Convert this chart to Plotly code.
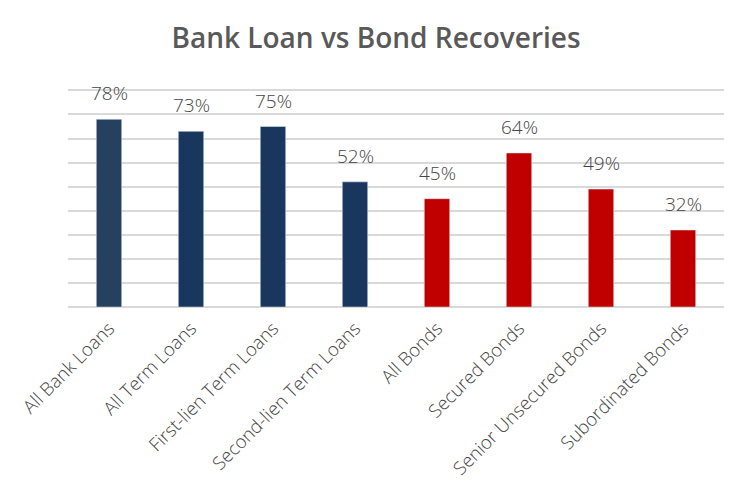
import plotly.graph_objects as go

categories = ["All Bank Loans", "All Term Loans", "First-lien Term Loans", "Second-lien Term Loans",
              "All Bonds", "Secured Bonds", "Senior Unsecured Bonds", "Subordinated Bonds"]
values = [78, 73, 75, 52, 45, 64, 49, 32]
labels = ["78%", "73%", "75%", "52%", "45%", "64%", "49%", "32%"]
colors = ["#26405F", "#18365E", "#18365E", "#18365E", "#C00000", "#C00000", "#C00000", "#C00000"]

# page body has an 8px default margin; compensate so the chart lands where the reference has it
W, H, OFF = 751, 498, 8

fig = go.Figure(go.Bar(x=categories, y=values, marker_color=colors, width=0.31, hoverinfo="skip"))

for c, v, t in zip(categories, values, labels):
    fig.add_annotation(x=c, y=v, text=t, showarrow=False, yshift=26,
                       font=dict(family="Open Sans", size=19, color="#454545", weight=300))

fig.update_layout(
    width=W - OFF, height=H - OFF,
    margin=dict(l=68 - OFF, r=27, t=80, b=191),
    paper_bgcolor="white", plot_bgcolor="white",
    title=dict(text="Bank Loan vs Bond Recoveries", x=(376 - OFF) / (W - OFF), xanchor="center",
               xref="container", yref="container", y=1 - (38 - OFF) / (H - OFF), yanchor="middle",
               font=dict(family="Open Sans", size=28, color="#595959", weight=600)),
    xaxis=dict(tickangle=-45, tickfont=dict(family="Open Sans", size=18.5, color="#454545", weight=300),
               ticklabelstandoff=6,
               showgrid=False, showline=False, ticks="", ticklen=0, automargin=False),
    yaxis=dict(range=[0, 91], tickvals=[0, 10, 20, 30, 40, 50, 60, 70, 80, 90],
               showticklabels=False, showgrid=True, gridcolor="#D9D9D9",
               gridwidth=1.5, zeroline=True, zerolinecolor="#D9D9D9", zerolinewidth=1.5,
               fixedrange=True, automargin=False),
    showlegend=False,
)

fig.write_html("out.html")
